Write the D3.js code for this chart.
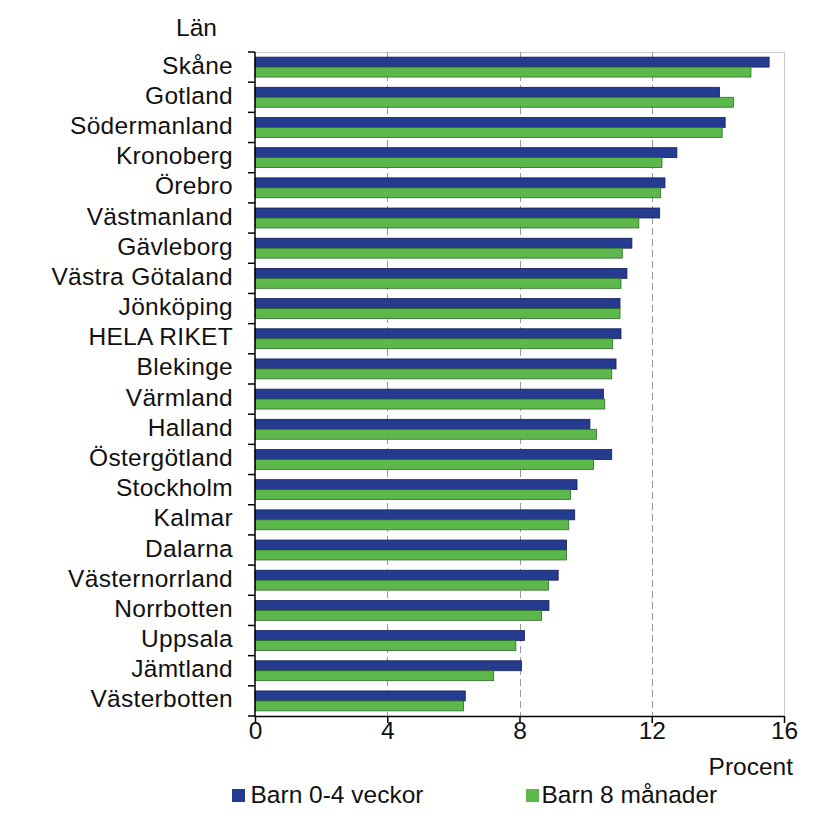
<!DOCTYPE html>
<html><head><meta charset="utf-8">
<script src="https://cdn.jsdelivr.net/npm/d3@7"></script>
<style>body{margin:0;background:#fff}svg{font-family:"Liberation Sans",Arial,sans-serif}</style>
</head><body><svg id="c" width="823" height="829"></svg>
<script>
const categories = ["Skåne","Gotland","Södermanland","Kronoberg","Örebro","Västmanland","Gävleborg","Västra Götaland","Jönköping","HELA RIKET","Blekinge","Värmland","Halland","Östergötland","Stockholm","Kalmar","Dalarna","Västernorrland","Norrbotten","Uppsala","Jämtland","Västerbotten"];
const barn04 = [15.55,14.05,14.22,12.76,12.4,12.24,11.4,11.25,11.04,11.07,10.92,10.54,10.13,10.79,9.74,9.67,9.42,9.17,8.89,8.15,8.06,6.36];
const barn8m = [15.0,14.47,14.13,12.31,12.27,11.61,11.11,11.07,11.04,10.82,10.79,10.58,10.33,10.24,9.54,9.49,9.42,8.88,8.67,7.89,7.22,6.31];
const seriesNames = ["Barn 0-4 veckor","Barn 8 månader"];
const xTicks = [0,4,8,12,16];

const svg = d3.select("#c");
const FS = 24.5;
const L=255, R=784, T=52, B=716;
const x = d3.scaleLinear().domain([0,16]).range([L,R]);
const y = d3.scaleBand().domain(categories).range([T,B]).paddingInner(0.34).paddingOuter(0.17);
const colors = ["#253b8f","#5cb84a"];
const strokes = ["#16205a","#2f6b2a"];

svg.append("line").attr("x1",L).attr("x2",R).attr("y1",T+0.5).attr("y2",T+0.5).attr("stroke","#c8c8c8");
svg.append("line").attr("x1",R+0.5).attr("x2",R+0.5).attr("y1",T).attr("y2",B).attr("stroke","#c8c8c8");
svg.selectAll(".grid").data(xTicks.filter(d=>d>0&&d<16)).join("line")
  .attr("x1",d=>Math.round(x(d))+0.5).attr("x2",d=>Math.round(x(d))+0.5).attr("y1",T).attr("y2",B)
  .attr("stroke","#9a9a9a").attr("stroke-dasharray","7,4");

const bh = y.bandwidth()/2;
[barn04,barn8m].forEach((vals,i)=>{
  svg.append("g").selectAll("rect").data(categories).join("rect")
    .attr("x",x(0)).attr("y",(d)=>y(d)+i*bh).attr("height",bh)
    .attr("width",(d,j)=>x(vals[j])-x(0))
    .attr("fill",colors[i]).attr("stroke",strokes[i]).attr("stroke-width",0.8);
});

const xa = svg.append("g").attr("transform",`translate(0,${B})`)
  .call(d3.axisBottom(x).tickValues(xTicks).tickSize(7).tickSizeOuter(0));
xa.select(".domain").attr("stroke","#000").attr("stroke-width",1.5);
xa.selectAll(".tick line").attr("stroke","#000").attr("stroke-width",1.5);
xa.selectAll("text").attr("font-size",FS).attr("fill","#111").attr("y",23).attr("dy",0).attr("font-family","Liberation Sans, Arial, sans-serif");

const ya = svg.append("g").attr("transform",`translate(${L},0)`);
ya.append("line").attr("x1",0).attr("x2",0).attr("y1",T).attr("y2",B).attr("stroke","#000").attr("stroke-width",1.5);
const bounds = d3.range(categories.length+1).map(i=>T+(B-T)*i/categories.length);
ya.selectAll(".tk").data(bounds).join("line").attr("x1",-7).attr("x2",0).attr("y1",d=>d).attr("y2",d=>d).attr("stroke","#000").attr("stroke-width",1.5);
ya.selectAll("text").data(categories).join("text")
  .attr("x",-22).attr("y",d=>y(d)+y.bandwidth()/2+6.5)
  .attr("text-anchor","end").attr("font-size",FS).attr("letter-spacing",0.3).attr("fill","#111").text(d=>d);

svg.append("text").attr("x",196.5).attr("y",36).attr("text-anchor","middle").attr("font-size",FS).attr("fill","#111").text("Län");
svg.append("text").attr("x",793).attr("y",775).attr("text-anchor","end").attr("font-size",FS).attr("fill","#111").text("Procent");

const lg = [{x:232,tx:250.5},{x:526,tx:541.5}];
seriesNames.forEach((n,i)=>{
  svg.append("rect").attr("x",lg[i].x).attr("y",789).attr("width",13).attr("height",13).attr("fill",colors[i]);
  svg.append("text").attr("x",lg[i].tx).attr("y",803).attr("font-size",FS).attr("fill","#111").text(n);
});
</script></body></html>
